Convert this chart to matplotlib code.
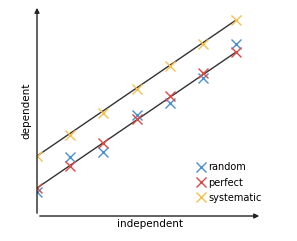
import matplotlib.pyplot as plt
import numpy as np

# data
x = [0, 1, 2, 3, 4, 5, 6]
perfect = [2.8, 5.0, 7.3, 9.7, 12.0, 14.3, 16.4]
systematic = [6.0, 8.1, 10.3, 12.7, 15.0, 17.2, 19.6]
random = [2.4, 5.9, 6.4, 10.1, 11.3, 13.8, 17.2]

fig = plt.figure(figsize=(2.97, 2.41), dpi=100)
ax = fig.add_axes([0.1246, 0.1037, 0.7576, 0.8755])

ax.plot([x[0], x[-1]], [perfect[0], perfect[-1]], color="#333333", lw=1)
ax.plot([x[0], x[-1]], [systematic[0], systematic[-1]], color="#333333", lw=1)

ax.plot(x, random, 'x', color="#4a8fd0", ms=7, mew=1, label="random")
ax.plot(x, perfect, 'x', color="#dc4a44", ms=7, mew=1, label="perfect")
ax.plot(x, systematic, 'x', color="#f4c050", ms=7, mew=1, label="systematic")

ax.set_xlim(0, 6.78)
ax.set_ylim(0, 21.1)
for s in ax.spines.values():
    s.set_visible(False)
ax.set_xticks([])
ax.set_yticks([])

# axes drawn as arrows
ax.annotate("", xy=(1, 0), xytext=(0, 0), xycoords="axes fraction",
            arrowprops=dict(arrowstyle="-|>", color="#222222", lw=1, mutation_scale=7))
ax.annotate("", xy=(0, 1), xytext=(0, 0), xycoords="axes fraction",
            arrowprops=dict(arrowstyle="-|>", color="#222222", lw=1, mutation_scale=7))

ax.set_xlabel("independent", fontsize=7.5, labelpad=2)
ax.set_ylabel("dependent", fontsize=7.5, labelpad=4)

ax.legend(loc="upper left", bbox_to_anchor=(0.71, 0.255), frameon=False, fontsize=7,
          handlelength=0.8, handletextpad=0.35, labelspacing=0.55,
          borderaxespad=0, borderpad=0)

plt.savefig("out.png")
